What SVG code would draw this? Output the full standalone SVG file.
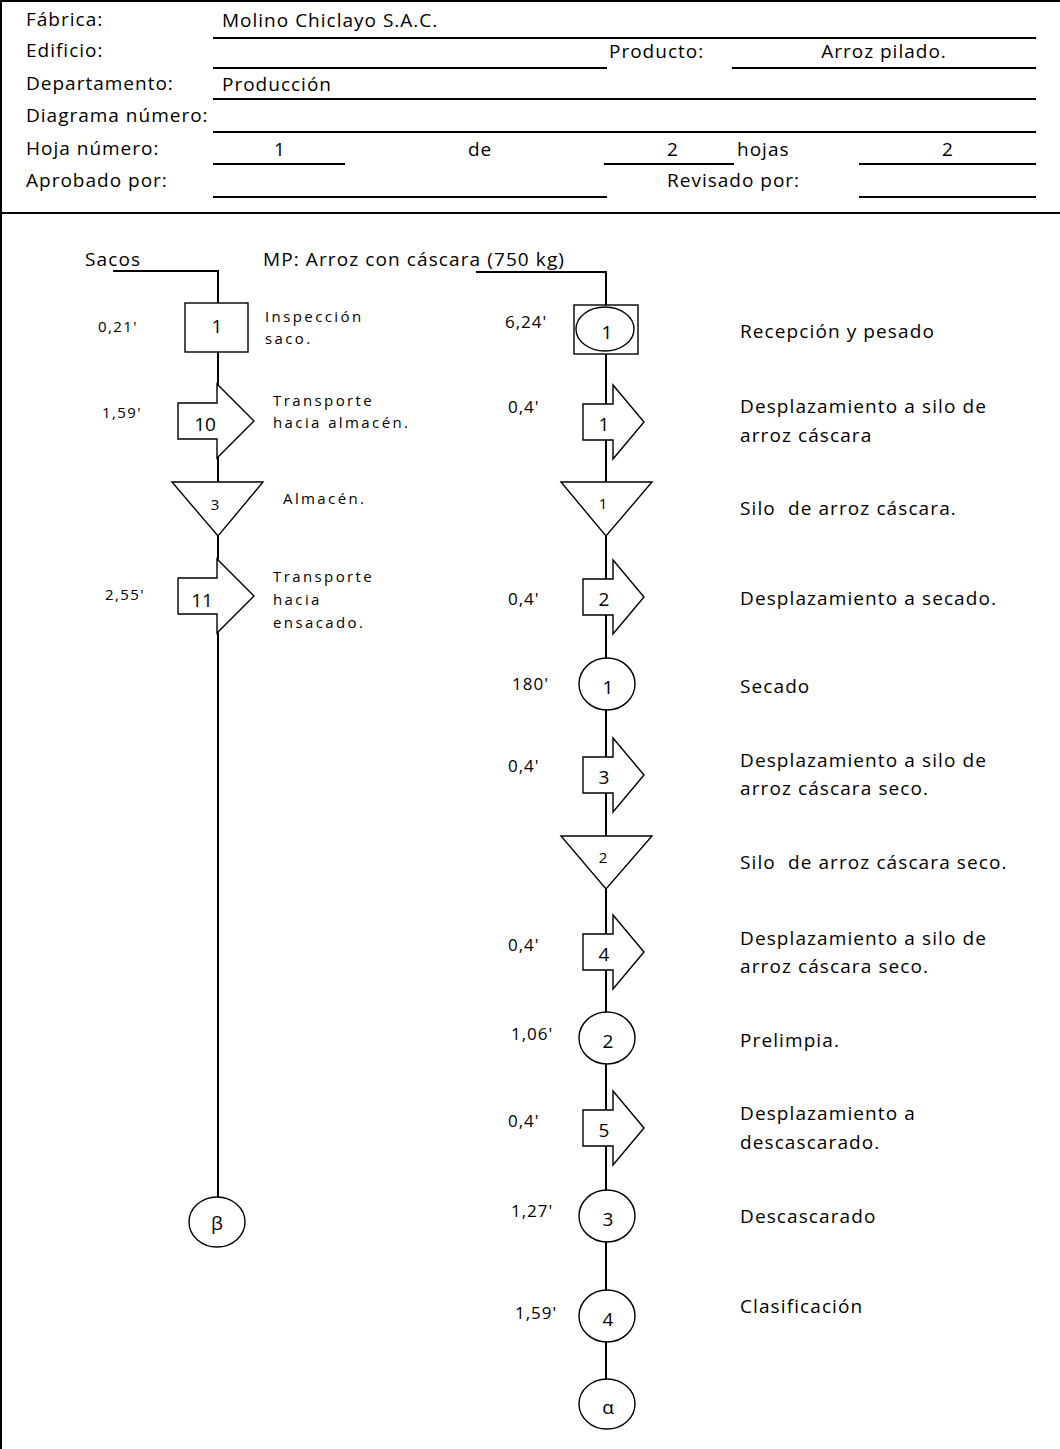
<svg xmlns="http://www.w3.org/2000/svg" width="1060" height="1449" viewBox="0 0 1060 1449">
  <style>
    text { font-family: "Open Sans", "Liberation Sans", sans-serif; fill: #000; }
    .h { font-size: 19px; letter-spacing: 1px; }
    .lbl { font-size: 19px; letter-spacing: 1.1px; }
    .pre { white-space: pre; }
    .sm { font-size: 15px; letter-spacing: 2.4px; }
    .tl { font-size: 15px; letter-spacing: 1.4px; }
    .tr { font-size: 17px; letter-spacing: 1px; }
    .n { font-size: 19px; text-anchor: middle; }
    .ns { font-size: 15px; text-anchor: middle; }
    .c { text-anchor: middle; }
    .rule { stroke: #000; stroke-width: 2; fill: none; }
    .flow { stroke: #000; stroke-width: 2; fill: none; }
    .shape { stroke: #000; stroke-width: 1.4; fill: #fff; }
  </style>

  <rect width="1060" height="1449" fill="#fff"/>

  <!-- frame -->
  <g id="frame" class="rule">
    <line x1="1" y1="0" x2="1" y2="1449"/>
    <line x1="0" y1="1" x2="1060" y2="1"/>
    <line x1="0" y1="213" x2="1060" y2="213"/>
  </g>

  <!-- header form -->
  <g id="header">
    <g class="rule">
      <line x1="213" y1="38" x2="1036" y2="38"/>
      <line x1="213" y1="68" x2="607" y2="68"/>
      <line x1="732" y1="68" x2="1036" y2="68"/>
      <line x1="213" y1="99" x2="1036" y2="99"/>
      <line x1="213" y1="132" x2="1036" y2="132"/>
      <line x1="213" y1="164" x2="345" y2="164"/>
      <line x1="604" y1="164" x2="734" y2="164"/>
      <line x1="859" y1="164" x2="1036" y2="164"/>
      <line x1="213" y1="197" x2="607" y2="197"/>
      <line x1="859" y1="197" x2="1036" y2="197"/>
    </g>
    <text class="h" x="26" y="26">Fábrica:</text>
    <text class="h" x="222" y="27">Molino Chiclayo S.A.C.</text>
    <text class="h" x="26" y="57">Edificio:</text>
    <text class="h" x="609" y="58">Producto:</text>
    <text class="h c" x="884" y="58">Arroz pilado.</text>
    <text class="h" x="26" y="90">Departamento:</text>
    <text class="h" x="222" y="91">Producción</text>
    <text class="h" x="26" y="122">Diagrama número:</text>
    <text class="h" x="26" y="155">Hoja número:</text>
    <text class="h c" x="280" y="156">1</text>
    <text class="h" x="468" y="156">de</text>
    <text class="h c" x="673" y="156">2</text>
    <text class="h" x="737" y="156">hojas</text>
    <text class="h c" x="948" y="156">2</text>
    <text class="h" x="26" y="187">Aprobado por:</text>
    <text class="h" x="667" y="187">Revisado por:</text>
  </g>

  <!-- connectors -->
  <g id="connectors" class="flow">
    <polyline points="113,271 218,271 218,1197"/>
    <polyline points="476,272 606,272 606,1379"/>
  </g>

  <!-- left column: sacks -->
  <text class="lbl" x="85" y="266" letter-spacing="0.8">Sacos</text>

  <g id="insp-saco">
    <rect class="shape" x="185" y="303" width="63" height="49"/>
    <text class="n" x="217" y="333" font-size="16">1</text>
    <text class="tl" x="98" y="332">0,21'</text>
    <text class="sm" x="265" y="322">Inspección</text>
    <text class="sm" x="265" y="344">saco.</text>
  </g>

  <g id="transp-10">
    <path class="shape" d="M178,403 H217 V384 L254,421 L217,458 V439 H178 Z"/>
    <text class="n" x="205" y="431" font-size="20">10</text>
    <text class="tl" x="102" y="418">1,59'</text>
    <text class="sm" x="273" y="406">Transporte</text>
    <text class="sm" x="273" y="428">hacia almacén.</text>
  </g>

  <g id="almacen-3">
    <path class="shape" d="M172,482 H263 L218,536 Z"/>
    <text class="ns" x="215" y="510">3</text>
    <text class="sm" x="283" y="504">Almacén.</text>
  </g>

  <g id="transp-11">
    <path class="shape" d="M178,578 H217 V559 L254,596 L217,633 V614 H178 Z"/>
    <text class="n" x="202" y="607" font-size="18">11</text>
    <text class="tl" x="105" y="600">2,55'</text>
    <text class="sm" x="273" y="582">Transporte</text>
    <text class="sm" x="273" y="605">hacia</text>
    <text class="sm" x="273" y="628">ensacado.</text>
  </g>

  <g id="beta">
    <ellipse class="shape" cx="217" cy="1222" rx="28" ry="25"/>
    <text class="n" x="217" y="1230" font-size="20">β</text>
  </g>

  <!-- right column: paddy rice -->
  <text class="lbl" x="263" y="266" letter-spacing="0.6">MP: Arroz con cáscara (750 kg)</text>

  <g id="recepcion">
    <rect class="shape" x="574" y="305" width="64" height="49"/>
    <ellipse class="shape" cx="605" cy="329" rx="29" ry="22"/>
    <text class="n" x="607" y="339" font-size="16">1</text>
    <text class="tr" x="505" y="328">6,24'</text>
    <text class="lbl" x="740" y="338">Recepción y pesado</text>
  </g>

  <g id="desp-1">
    <path class="shape" d="M583,404 H613 V385 L644,422 L613,459 V440 H583 Z"/>
    <text class="n" x="604" y="431">1</text>
    <text class="tr" x="508" y="413">0,4'</text>
    <text class="lbl" x="740" y="413">Desplazamiento a silo de</text>
    <text class="lbl" x="740" y="442">arroz cáscara</text>
  </g>

  <g id="silo-1">
    <path class="shape" d="M561,482 H652 L606,536 Z"/>
    <text class="ns" x="603" y="509" font-size="14">1</text>
    <text class="lbl pre" x="740" y="515">Silo  de arroz cáscara.</text>
  </g>

  <g id="desp-2">
    <path class="shape" d="M583,579 H613 V560 L644,597 L613,634 V615 H583 Z"/>
    <text class="n" x="604" y="606">2</text>
    <text class="tr" x="508" y="605">0,4'</text>
    <text class="lbl" x="740" y="605">Desplazamiento a secado.</text>
  </g>

  <g id="secado">
    <ellipse class="shape" cx="607" cy="684" rx="28" ry="26"/>
    <text class="n" x="608" y="694">1</text>
    <text class="tr" x="512" y="690">180'</text>
    <text class="lbl" x="740" y="693">Secado</text>
  </g>

  <g id="desp-3">
    <path class="shape" d="M583,757 H613 V738 L644,775 L613,812 V793 H583 Z"/>
    <text class="n" x="604" y="784">3</text>
    <text class="tr" x="508" y="772">0,4'</text>
    <text class="lbl" x="740" y="767">Desplazamiento a silo de</text>
    <text class="lbl" x="740" y="795">arroz cáscara seco.</text>
  </g>

  <g id="silo-2">
    <path class="shape" d="M561,836 H652 L606,889 Z"/>
    <text class="ns" x="603" y="863" font-size="14">2</text>
    <text class="lbl pre" x="740" y="869">Silo  de arroz cáscara seco.</text>
  </g>

  <g id="desp-4">
    <path class="shape" d="M583,934 H613 V915 L644,952 L613,989 V970 H583 Z"/>
    <text class="n" x="604" y="961">4</text>
    <text class="tr" x="508" y="951">0,4'</text>
    <text class="lbl" x="740" y="945">Desplazamiento a silo de</text>
    <text class="lbl" x="740" y="973">arroz cáscara seco.</text>
  </g>

  <g id="prelimpia">
    <ellipse class="shape" cx="607" cy="1038" rx="28" ry="26"/>
    <text class="n" x="608" y="1048">2</text>
    <text class="tr" x="511" y="1040">1,06'</text>
    <text class="lbl" x="740" y="1047">Prelimpia.</text>
  </g>

  <g id="desp-5">
    <path class="shape" d="M583,1110 H613 V1091 L644,1128 L613,1165 V1146 H583 Z"/>
    <text class="n" x="604" y="1137">5</text>
    <text class="tr" x="508" y="1127">0,4'</text>
    <text class="lbl" x="740" y="1120">Desplazamiento a</text>
    <text class="lbl" x="740" y="1149">descascarado.</text>
  </g>

  <g id="descascarado">
    <ellipse class="shape" cx="607" cy="1216" rx="28" ry="26"/>
    <text class="n" x="608" y="1226">3</text>
    <text class="tr" x="511" y="1217">1,27'</text>
    <text class="lbl" x="740" y="1223">Descascarado</text>
  </g>

  <g id="clasificacion">
    <ellipse class="shape" cx="607" cy="1316" rx="28" ry="26"/>
    <text class="n" x="608" y="1326">4</text>
    <text class="tr" x="515" y="1319">1,59'</text>
    <text class="lbl" x="740" y="1313">Clasificación</text>
  </g>

  <g id="alpha">
    <ellipse class="shape" cx="607" cy="1404" rx="28" ry="25"/>
    <text class="n" x="608" y="1414" font-size="20">α</text>
  </g>
</svg>
